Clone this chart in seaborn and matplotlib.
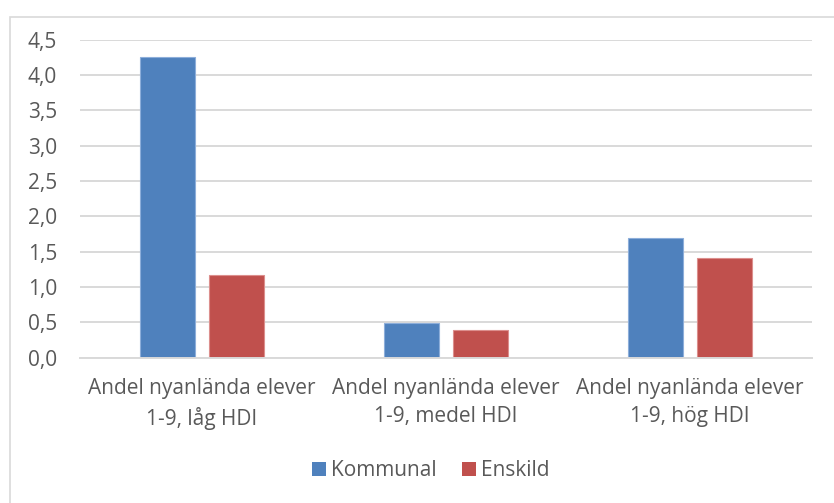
import matplotlib
matplotlib.use("Agg")
import matplotlib.pyplot as plt
from matplotlib.patches import Rectangle, Patch
import seaborn as sns
import pandas as pd

categories = [
    "Andel nyanlända elever\n1-9, låg HDI",
    "Andel nyanlända elever\n1-9, medel HDI",
    "Andel nyanlända elever\n1-9, hög HDI",
]
series_names = ["Kommunal", "Enskild"]
kommunal = [4.26, 0.49, 1.69]
enskild = [1.17, 0.39, 1.41]
y_ticks = [0.0, 0.5, 1.0, 1.5, 2.0, 2.5, 3.0, 3.5, 4.0, 4.5]

colors = {"Kommunal": "#4F81BD", "Enskild": "#C0504D"}
edge_colors = {"Kommunal": "#8DAEDA", "Enskild": "#DC8F8D"}
text_color = "#595959"
grid_color = "#D9D9D9"

df = pd.DataFrame({
    "Kategori": categories * 2,
    "Serie": [series_names[0]] * 3 + [series_names[1]] * 3,
    "Värde": kommunal + enskild,
})

sns.set_theme(style="white")
plt.rcParams["font.family"] = ["Open Sans", "DejaVu Sans"]

W, H = 834, 503
fig = plt.figure(figsize=(W / 100, H / 100), dpi=100)
fig.patch.set_facecolor("white")

# chart frame
fig.add_artist(Rectangle((10 / W, -0.1), 1.2, 1 - 17 / H + 0.1,
                         transform=fig.transFigure, fill=False,
                         edgecolor="#D9D9D9", linewidth=1.2))

ax = fig.add_axes([80 / W, 1 - 357.7 / H, (812 - 80) / W, (357.7 - 39.7) / H])
sns.barplot(data=df, x="Kategori", y="Värde", hue="Serie",
            order=categories, hue_order=series_names,
            palette=colors, width=0.564, gap=0.2, ax=ax,
            legend=False, linewidth=0, saturation=1)

# light outline on each bar
for container, name in zip(ax.containers, series_names):
    for bar in container:
        bar.set_edgecolor(edge_colors[name])
        bar.set_linewidth(0.8)

ax.set_xlim(-0.5, 2.5)
ax.set_ylim(0, 4.5)
ax.set_yticks(y_ticks)
ax.set_yticklabels([f"{t:.1f}".replace(".", ",") for t in y_ticks])
ax.set_xlabel("")
ax.set_ylabel("")
ax.yaxis.grid(True, color=grid_color, linewidth=1.4)
ax.set_axisbelow(True)
for s in ["left", "right", "top"]:
    ax.spines[s].set_visible(False)
ax.spines["bottom"].set_color(grid_color)
ax.spines["bottom"].set_linewidth(1.4)
ax.tick_params(axis="both", length=0, colors=text_color, labelsize=15)
ax.tick_params(axis="y", pad=16.5)
ax.tick_params(axis="x", pad=14.5)
for lbl in ax.get_xticklabels():
    lbl.set_linespacing(1.43)

handles = [Patch(facecolor=colors[n], edgecolor="none") for n in series_names]
fig.legend(handles, series_names, loc="center", bbox_to_anchor=(430.5 / W, 1 - 471 / H),
           ncol=2, frameon=False, fontsize=15, labelcolor=text_color,
           handlelength=0.67, handleheight=0.67, handletextpad=0.25, columnspacing=1.2)

fig.savefig("out.png", dpi=100)
